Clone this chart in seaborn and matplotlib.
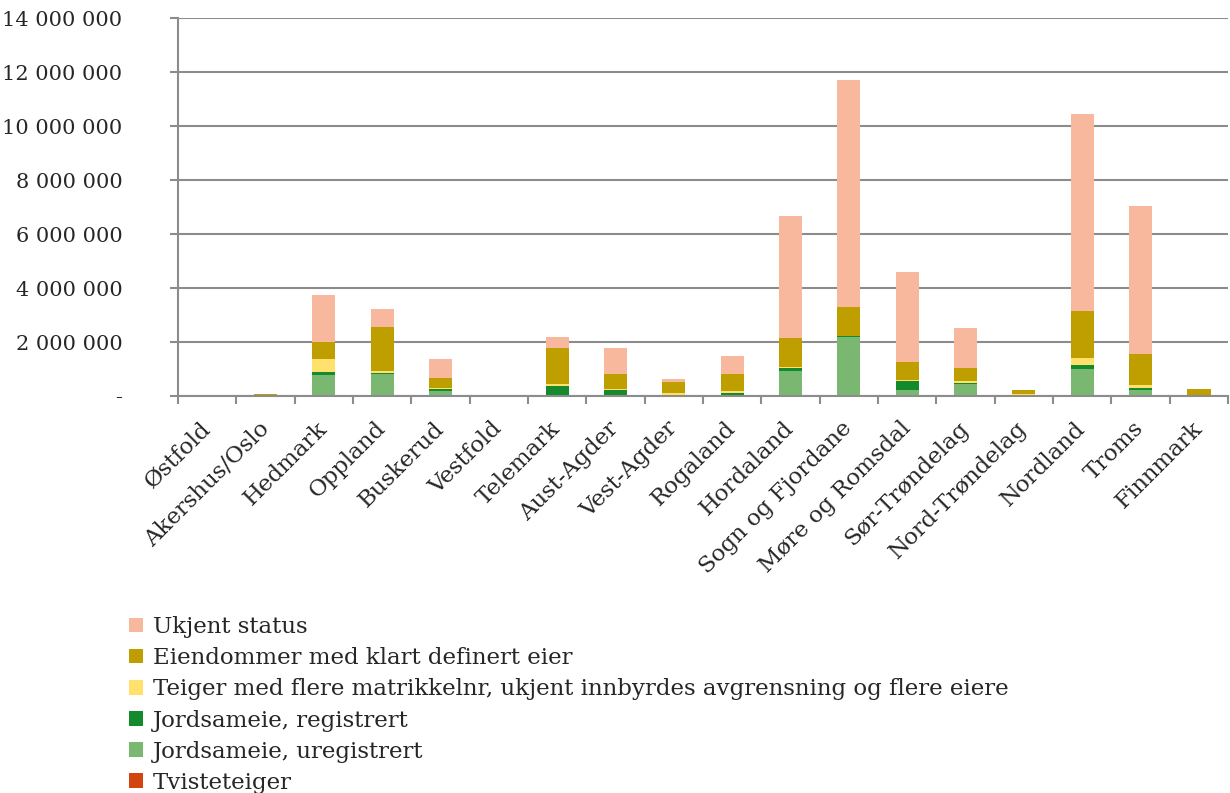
import numpy as np
import pandas as pd
import matplotlib
matplotlib.use("Agg")
import matplotlib.pyplot as plt
import seaborn as sns
from matplotlib.patches import Patch
from matplotlib.ticker import FuncFormatter, FixedLocator

counties = ["Østfold", "Akershus/Oslo", "Hedmark", "Oppland", "Buskerud", "Vestfold",
            "Telemark", "Aust-Agder", "Vest-Agder", "Rogaland", "Hordaland",
            "Sogn og Fjordane", "Møre og Romsdal", "Sør-Trøndelag", "Nord-Trøndelag",
            "Nordland", "Troms", "Finnmark"]

tvisteteiger = [0, 0, 0, 0, 0, 0, 0, 0, 0, 0, 0, 0, 0, 0, 0, 0, 0, 0]
jordsameie_ureg = [0, 0, 765000, 815000, 170000, 0, 0, 50000, 0, 40000, 910000,
                   2200000, 220000, 440000, 0, 990000, 220000, 0]
jordsameie_reg = [0, 0, 110000, 37000, 74000, 0, 360000, 160000, 0, 60000, 110000,
                  20000, 320000, 40000, 0, 160000, 70000, 0]
teiger = [20000, 5000, 510000, 60000, 60000, 0, 75000, 60000, 125000, 90000, 60000,
          20000, 50000, 60000, 70000, 260000, 100000, 5000]
eiendommer = [30000, 75000, 620000, 1630000, 380000, 0, 1360000, 540000, 390000, 620000,
              1050000, 1050000, 680000, 490000, 150000, 1730000, 1170000, 250000]
ukjent = [0, 0, 1750000, 680000, 700000, 0, 400000, 960000, 100000, 660000, 4520000,
          8400000, 3330000, 1480000, 0, 7300000, 5460000, 10000]

series_names = ["Tvisteteiger", "Jordsameie, uregistrert", "Jordsameie, registrert",
                "Teiger med flere matrikkelnr, ukjent innbyrdes avgrensning og flere eiere",
                "Eiendommer med klart definert eier", "Ukjent status"]
series_vals = [tvisteteiger, jordsameie_ureg, jordsameie_reg, teiger, eiendommer, ukjent]
colors = ["#D2450F", "#7AB872", "#138A2E", "#FFE16B", "#BF9E00", "#F8B89E"]

# cumulative stacks
cum = np.cumsum(np.array(series_vals, dtype=float), axis=0)

W, H = 1230, 793
fig = plt.figure(figsize=(W / 100, H / 100), dpi=100)
sns.set_style("white")
plt.rcParams['font.family'] = ['DejaVu Serif']
ax = fig.add_axes([178 / W, 1 - 396 / H, (1228 - 178) / W, (396 - 18) / H])

# draw from top of stack down so lower layers overlay upper
for i in range(len(series_vals) - 1, -1, -1):
    df = pd.DataFrame({"county": counties, "value": cum[i]})
    sns.barplot(data=df, x="county", y="value", order=counties, color=colors[i],
                saturation=1, width=0.4, ax=ax, edgecolor="none", linewidth=0, zorder=3)

ax.set_xlim(-0.5, len(counties) - 0.5)
ax.set_ylim(0, 14000000)
ax.set_yticks(np.arange(0, 14000001, 2000000))

def fmt(v, pos):
    if v == 0:
        return "-"
    return f"{int(v):,}".replace(",", " ")

ax.yaxis.set_major_formatter(FuncFormatter(fmt))
ax.grid(axis="y", color="#8c8c8c", linewidth=1.5, zorder=0)
ax.set_axisbelow(True)
for s in ["top", "right"]:
    ax.spines[s].set_visible(False)
for s in ["left", "bottom"]:
    ax.spines[s].set_color("#8c8c8c")
    ax.spines[s].set_linewidth(1.5)
    ax.spines[s].set_zorder(5)

ax.set_xlabel("")
ax.set_ylabel("")
ax.tick_params(axis="y", which="major", length=6, width=1.5, color="#8c8c8c",
               labelsize=15, pad=34, direction="out", left=True)
ax.tick_params(axis="x", which="major", length=0, labelsize=16.5, pad=21)
ax.xaxis.set_minor_locator(FixedLocator(np.arange(-0.5, len(counties), 1.0)))
ax.tick_params(axis="x", which="minor", length=6, width=1.5, color="#8c8c8c",
               direction="out", bottom=True)
for lab in ax.get_xticklabels():
    lab.set_rotation(45)
    lab.set_ha("right")
    lab.set_rotation_mode("anchor")
    lab.set_va("center")

handles = [Patch(facecolor=colors[i], edgecolor="none", label=series_names[i])
           for i in range(len(series_names) - 1, -1, -1)]
fig.legend(handles=handles, loc="upper left", bbox_to_anchor=(129 / W, 1 - 616 / H),
           frameon=False, fontsize=16.5, handlelength=0.6, handleheight=0.6,
           handletextpad=0.45, labelspacing=0.4, borderaxespad=0, borderpad=0)

fig.savefig("out.png", dpi=100)
